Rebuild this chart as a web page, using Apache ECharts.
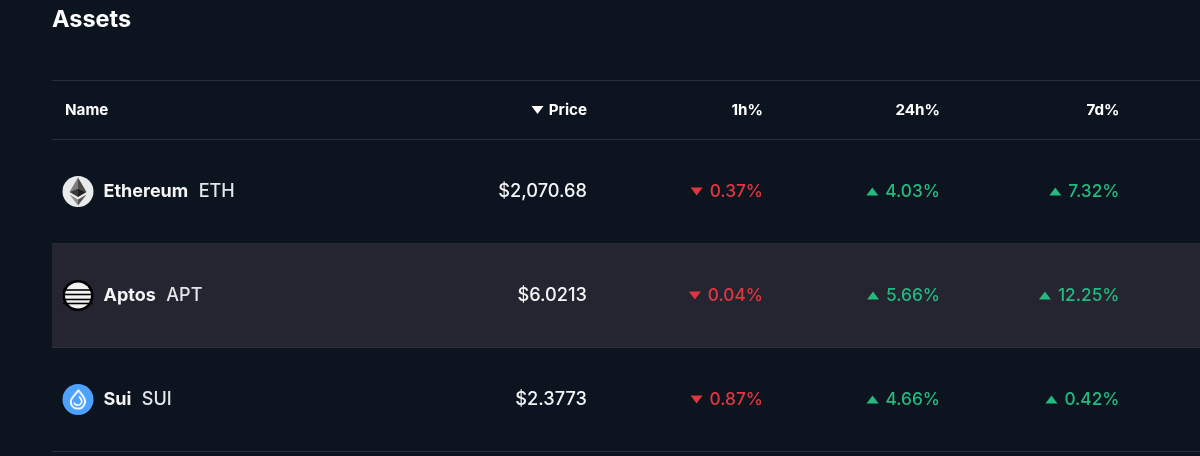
<!DOCTYPE html>
<html><head><meta charset="utf-8">
<style>html,body{margin:0;padding:0;background:#0c1420}#c{width:1200px;height:456px}</style>
<script src="https://cdn.jsdelivr.net/npm/echarts@6/dist/echarts.min.js"></script>
</head><body><div id="c"></div>
<script>
const title = "Assets";
const headers = ["Name", "Price", "1h%", "24h%", "7d%"];
const names = ["Ethereum", "Aptos", "Sui"];
const symbols = ["ETH", "APT", "SUI"];
const prices = ["$2,070.68", "$6.0213", "$2.3773"];
const change1h = [-0.37, -0.04, -0.87];
const change24h = [4.03, 5.66, 4.66];
const change7d = [7.32, 12.25, 0.42];

const FONT = 'Inter, "Noto Sans", sans-serif';
const BG = '#0c1420', LINE = '#2a2f3a', ROW = '#242530', WHITE = '#f4f5f6', RED = '#e0363f', GREEN = '#25b97f';
const colRight = [null, 587, 763, 940, 1119.5];
const ICON_X = 78, NAME_X = 103.5;
const MIDDLE_SHIFT = 0.5;

function tri(cx, cy, up, color) {
  const w = 6, h = 4;
  const pts = up ? [[cx - w, cy + h], [cx + w, cy + h], [cx, cy - h]] : [[cx - w, cy - h], [cx + w, cy - h], [cx, cy + h]];
  return { type: 'polygon', shape: { points: pts }, style: { fill: color } };
}
function txt(x, y, t, size, weight, color, align) {
  return { type: 'text', x, y: y + MIDDLE_SHIFT, style: { text: t, font: `${weight} ${size}px ${FONT}`, fill: color, textAlign: align || 'left', textVerticalAlign: 'middle' } };
}
function icon(i, x, y) {
  const c = (r, fill) => ({ type: 'circle', shape: { cx: x, cy: y, r }, style: { fill } });
  if (i === 0) return [
    c(15.5, '#e9eaeb'),
    { type: 'polygon', shape: { points: [[x, y - 14], [x - 8.5, y + 0.5], [x, y - 3]] }, style: { fill: '#7d7d7d' } },
    { type: 'polygon', shape: { points: [[x, y - 14], [x + 8.5, y + 0.5], [x, y - 3]] }, style: { fill: '#4a4a4a' } },
    { type: 'polygon', shape: { points: [[x - 8.5, y + 0.5], [x, y - 3], [x, y + 5.5]] }, style: { fill: '#3a3a3a' } },
    { type: 'polygon', shape: { points: [[x + 8.5, y + 0.5], [x, y - 3], [x, y + 5.5]] }, style: { fill: '#1f1f1f' } },
    { type: 'polygon', shape: { points: [[x - 8.5, y + 3], [x, y + 8], [x, y + 14]] }, style: { fill: '#8f8f8f' } },
    { type: 'polygon', shape: { points: [[x + 8.5, y + 3], [x, y + 8], [x, y + 14]] }, style: { fill: '#555' } }
  ];
  if (i === 1) {
    const stripes = [-5.5, -1, 4, 8].map(o => ({
      type: 'rect', shape: { x: x - 15, y: y + o - 0.8, width: 30, height: 1.6 }, style: { fill: '#000000' }
    }));
    return [c(15.5, '#000000'), c(13, '#f2f2f2')].concat(stripes);
  }
  return [
    c(15.5, '#4da2ff'),
    { type: 'path', shape: { pathData: `M${x + 0.5} ${y - 9} C${x + 4} ${y - 5} ${x + 8} ${y - 1} ${x + 7} ${y + 3} C${x + 6} ${y + 8} ${x + 2} ${y + 9.5} ${x - 1} ${y + 9} C${x - 5} ${y + 9} ${x - 8} ${y + 5} ${x - 7} ${y + 1} C${x - 6.3} ${y - 2} ${x - 3} ${y - 5} ${x + 0.5} ${y - 9} Z` },
      style: { fill: 'none', stroke: '#eef6ff', lineWidth: 2 } },
    { type: 'path', shape: { pathData: `M${x + 1} ${y - 3} C${x + 4} ${y} ${x + 5} ${y + 3} ${x + 2} ${y + 5} C${x} ${y + 6} ${x - 3} ${y + 6} ${x - 4} ${y + 3}` },
      style: { fill: 'none', stroke: '#eef6ff', lineWidth: 1.8 } }
  ];
}
function measure(t, font) {
  const ctx = document.createElement('canvas').getContext('2d');
  ctx.font = font;
  return ctx.measureText(t).width;
}
function changeCell(right, y, v) {
  const up = v >= 0, color = up ? GREEN : RED;
  const label = Math.abs(v).toFixed(2) + '%';
  const size = 17.3;
  const w = measure(label, `500 ${size}px ${FONT}`);
  return [tri(right - w - 13, y, up, color), txt(right, y, label, size, 500, color, 'right')];
}

const chart = echarts.init(document.getElementById('c'), null, { renderer: 'canvas' });
const line = y => ({ type: 'line', shape: { x1: 52, y1: y, x2: 1200, y2: y }, style: { stroke: LINE, lineWidth: 1 } });
const headerEls = [
  { type: 'text', left: 52, top: 7.5, style: { text: title, font: `700 23.5px ${FONT}`, fill: '#ffffff' } },
  { type: 'group', silent: true, children: [
    line(80.5), line(139.5),
    txt(65, 109.5, headers[0], 15.2, 700, '#ffffff'),
    tri(537.5, 110, false, '#ffffff'),
    txt(colRight[1], 109.5, headers[1], 15.2, 700, '#ffffff', 'right'),
    txt(colRight[2], 109.5, headers[2], 15.2, 700, '#ffffff', 'right'),
    txt(colRight[3], 109.5, headers[3], 15.2, 700, '#ffffff', 'right'),
    txt(colRight[4], 109.5, headers[4], 15.2, 700, '#ffffff', 'right')
  ] }
];

chart.setOption({
  animation: false,
  backgroundColor: BG,
  grid: { left: 0, right: 0, top: 139.5, height: 312, containLabel: false },
  xAxis: { type: 'value', min: 0, max: 1200, show: false },
  yAxis: { type: 'category', inverse: true, data: names, show: false },
  graphic: headerEls,
  series: [{
    type: 'custom',
    silent: true,
    coordinateSystem: 'cartesian2d',
    clip: false,
    data: names.map((n, i) => [0, i]),
    encode: { x: 0, y: 1 },
    renderItem(params, api) {
      const i = api.value(1);
      const y = api.coord([0, i])[1];
      const band = api.size([0, 1])[1];
      const kids = [];
      if (i === 1) kids.push({ type: 'rect', shape: { x: 52, y: y - band / 2, width: 1148, height: band }, style: { fill: ROW } });
      kids.push(line(y + band / 2));
      kids.push(...icon(i, ICON_X, y));
      const nw = measure(names[i], `700 18px ${FONT}`);
      kids.push(txt(NAME_X, y, names[i], 18, 700, WHITE));
      kids.push(txt(NAME_X + nw + 10.5, y, symbols[i], 18, 500, '#e3e6ea'));
      kids.push(txt(colRight[1], y, prices[i], 18.2, 500, WHITE, 'right'));
      kids.push(...changeCell(colRight[2], y, change1h[i]));
      kids.push(...changeCell(colRight[3], y, change24h[i]));
      kids.push(...changeCell(colRight[4], y, change7d[i]));
      return { type: 'group', children: kids };
    }
  }]
});
</script></body></html>
